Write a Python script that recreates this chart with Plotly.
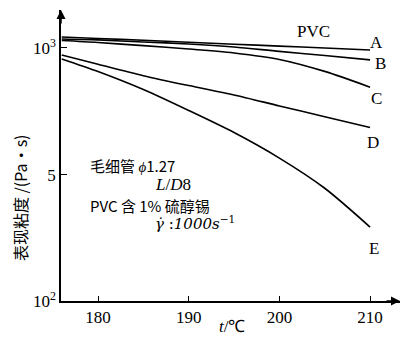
import plotly.graph_objects as go

t = [176, 180, 185, 190, 195, 200, 205, 210]
eta_A = [1105, 1090, 1072, 1053, 1035, 1017, 1000, 982]
eta_B = [1085, 1076, 1056, 1037, 1009, 969, 934, 897]
eta_C = [1070, 1051, 1021, 991, 955, 901, 808, 700]
eta_D = [938, 862, 777, 710, 652, 590, 535, 485]
eta_E = [905, 807, 685, 566, 463, 367, 279, 196]
series = {"A": eta_A, "B": eta_B, "C": eta_C, "D": eta_D, "E": eta_E}

x_ticks = [180, 190, 200, 210]
y_tickvals = [100, 316, 1000]
y_ticktext = ["10<sup>2</sup>", "5", "10<sup>3</sup>"]

serif = "Liberation Serif"
cjk = "Noto Sans CJK SC"
W, H = 404, 345
L, R, T, B = 61, 4, 10, 44
PW, PH = W - L - R, H - T - B


def px(x):
    return (x - L) / PW


def py(y):
    return (H - B - y) / PH


fig = go.Figure()
for name, vals in series.items():
    fig.add_trace(go.Scatter(x=t, y=vals, mode="lines", name=name,
                             line=dict(color="black", width=1.6, shape="spline", smoothing=0.8),
                             showlegend=False))

fig.update_layout(
    template="none",
    width=W, height=H,
    margin=dict(l=L, r=R, t=T, b=B, autoexpand=False),
    paper_bgcolor="white", plot_bgcolor="white",
    xaxis=dict(range=[175.92, 213.3], tickvals=x_ticks, ticks="inside", ticklen=5,
               tickcolor="black", automargin=False,
               showline=True, linecolor="black", linewidth=1.5, showgrid=False,
               zeroline=False, tickfont=dict(family=serif, size=17, color="black")),
    yaxis=dict(type="log", range=[2, 3.15], tickvals=y_tickvals, ticktext=y_ticktext,
               ticks="inside", ticklen=6, tickcolor="black", automargin=False,
               showline=True, linecolor="black", linewidth=1.5,
               showgrid=False, zeroline=False,
               tickfont=dict(family=serif, size=17, color="black")),
)

sfont = dict(family=serif, size=17, color="black")
cfont = dict(family=cjk, size=15, color="black")
ann = []
# curve labels (pixel positions of the label centres)
label_px = {"A": (376, 42), "B": (380, 63), "C": (376, 98), "D": (373, 142), "E": (374, 248), "PVC": (313, 32)}
for k, (lx, ly) in label_px.items():
    ann.append(dict(x=px(lx), y=py(ly), xref="paper", yref="paper", xanchor="center",
                    yanchor="middle", text=k, showarrow=False, font=sfont))
# info block
info = [
    (88, 165, "毛细管 <i>ϕ</i>1.27", cfont),
    (153, 184, "<i>L</i>/<i>D</i>8", sfont),
    (88, 205, "PVC 含 1% 硫醇锡", cfont),
    (153, 223, "<i>γ̇</i> :<i>1000s</i><sup>−1</sup>", dict(family="DejaVu Serif", size=15, color="black")),
]
for x0, y0, txt, f in info:
    ann.append(dict(x=px(x0), y=py(y0), xref="paper", yref="paper", xanchor="left",
                    yanchor="middle", text=txt, showarrow=False, font=f))
# axis titles
ann.append(dict(x=px(20), y=py(198), xref="paper", yref="paper", textangle=-90,
                xanchor="center", yanchor="middle",
                text="表现粘度 /(Pa·s)", showarrow=False,
                font=dict(family=cjk, size=16, color="black")))
ann.append(dict(x=px(232), y=py(326), xref="paper", yref="paper",
                xanchor="center", yanchor="middle",
                text="<i>t</i>/℃", showarrow=False, font=sfont))
# axis arrows
ann.append(dict(x=1, y=0, xref="paper", yref="paper", ax=-15, ay=0, text="", showarrow=True,
                arrowhead=2, arrowsize=1.2, arrowwidth=1.5, arrowcolor="black"))
ann.append(dict(x=0, y=1, xref="paper", yref="paper", ax=0, ay=15, text="", showarrow=True,
                arrowhead=2, arrowsize=1.2, arrowwidth=1.5, arrowcolor="black"))
fig.update_layout(annotations=ann)

fig.write_html("out.html", config={"displayModeBar": False},
               post_script="document.body.style.margin='0';document.body.style.overflow='hidden';")
